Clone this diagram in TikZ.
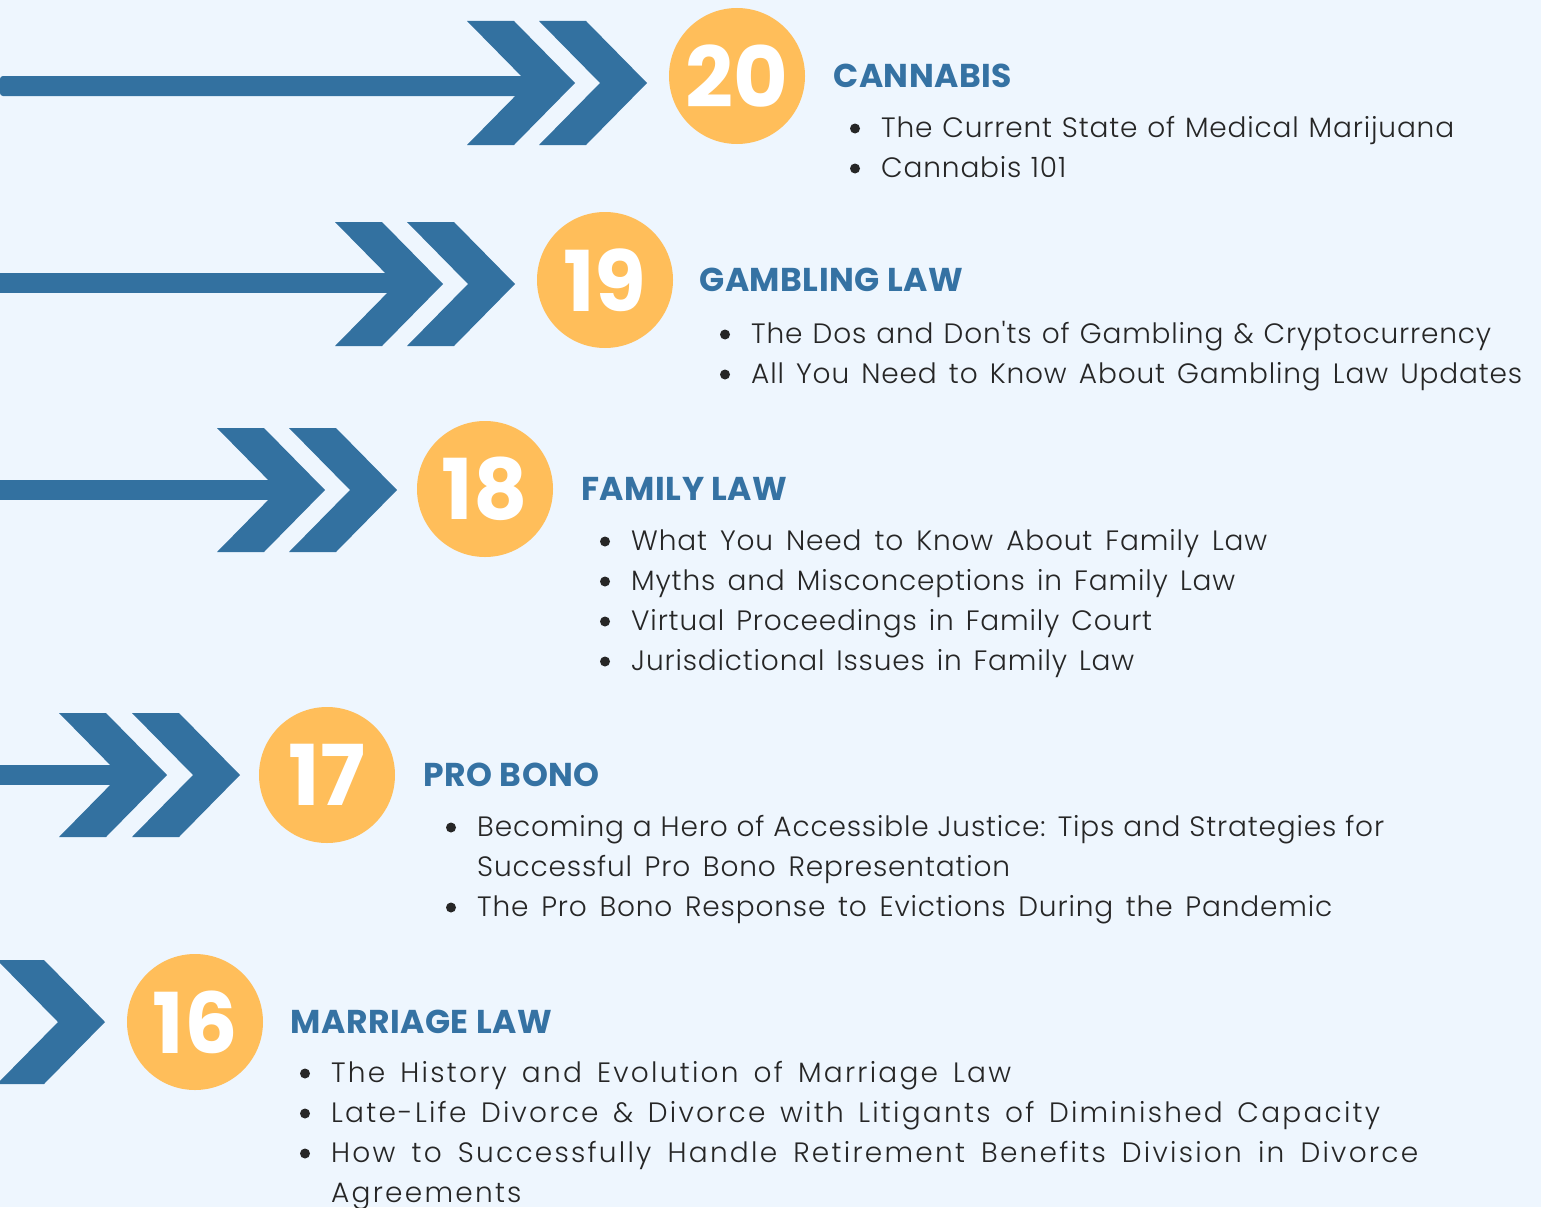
\documentclass[tikz,border=0pt]{standalone}
\usepackage{fontspec}
\setmainfont{Poppins}[UprightFont=* Light, BoldFont=* Bold]
\newfontfamily\bodyfont{Poppins}[UprightFont=* Light, LetterSpace=3]
\newfontfamily\widefont{Poppins}[UprightFont=* Light, LetterSpace=8]
\usetikzlibrary{positioning}

\definecolor{bgblue}{HTML}{EEF6FE}
\definecolor{arrowblue}{HTML}{3371A0}
\definecolor{headblue}{HTML}{3572A3}
\definecolor{discorange}{HTML}{FFBE5A}
\definecolor{bodygray}{HTML}{262626}

\tikzset{
    chev/.pic={\fill[arrowblue] (0,-62) -- (47,-62) -- (108,0) -- (47,62) -- (0,62) -- (61,0) -- cycle;},
    numdisc/.style={circle, fill=discorange, minimum size=136pt, inner sep=0pt,
        text=white, font=\bfseries\fontsize{84}{84}\selectfont},
    headtxt/.style={font=\bfseries\fontsize{33}{33}\selectfont\addfontfeature{LetterSpace=1.5}, text=headblue, inner sep=0pt},
    itemtxt/.style={font=\bodyfont\fontsize{28}{40}\selectfont, text=bodygray, inner sep=0pt, anchor=base west},
    dot/.style={circle, fill=bodygray, minimum size=10pt, inner sep=0pt},
}

% one bullet line: name, x, baseline y, width, text
\newcommand{\entry}[5]{%
    \node[itemtxt] (#1) at (#2,#3) {\makebox[#4pt][s]{#5}};
    \node[dot] (#1dot) at ([xshift=-26pt,yshift=8.5pt]#1.base west) {};}

\begin{document}
\begin{tikzpicture}[x=1pt, y=-1pt]
    \fill[bgblue] (0,0) rectangle (1541,1207);
    \useasboundingbox (0,0) rectangle (1541,1207);

    % 20
    \fill[arrowblue, rounded corners=3pt] (0,76) rectangle (528,96);
    \pic at (467,83) {chev};
    \pic at (539,83) {chev};
    \node[numdisc] (n20) at (737,76) {20};
    \node[headtxt, right=28pt of n20] (h20) {CANNABIS};
    \entry{i20a}{881}{137}{573}{The Current State of Medical Marijuana}
    \entry{i20b}{881}{177}{185}{Cannabis 101}

    % 19
    \fill[arrowblue] (0,273) rectangle (396,293);
    \pic at (335,284) {chev};
    \pic at (407,284) {chev};
    \node[numdisc] (n19) at (605,280) {19};
    \node[headtxt, right=26pt of n19] (h19) {GAMBLING LAW};
    \entry{i19a}{751}{343}{740}{The Dos and Don'ts of Gambling \& Cryptocurrency}
    \entry{i19b}{751}{383}{771}{All You Need to Know About Gambling Law Updates}

    % 18
    \fill[arrowblue] (0,480) rectangle (278,500);
    \pic at (217,490) {chev};
    \pic at (289,490) {chev};
    \node[numdisc] (n18) at (485,489) {18};
    \node[headtxt, right=28pt of n18] (h18) {FAMILY LAW};
    \entry{i18a}{631}{550}{636}{What You Need to Know About Family Law}
    \entry{i18b}{631}{590}{604}{Myths and Misconceptions in Family Law}
    \entry{i18c}{631}{630}{521}{Virtual Proceedings in Family Court}
    \entry{i18d}{631}{670}{503}{Jurisdictional Issues in Family Law}

    % 17
    \fill[arrowblue] (0,765) rectangle (120,785);
    \pic at (59,775) {chev};
    \pic at (132,775) {chev};
    \node[numdisc] (n17) at (327,775) {17};
    \node[headtxt, right=28pt of n17] (h17) {PRO BONO};
    \entry{i17a}{477}{836}{907}{Becoming a Hero of Accessible Justice: Tips and Strategies for}
    \node[itemtxt] (i17a2) at (477,876) {\makebox[533pt][s]{Successful Pro Bono Representation}};
    \entry{i17b}{477}{916}{855}{The Pro Bono Response to Evictions During the Pandemic}

    % 16
    \pic at (-3,1022) {chev};
    \node[numdisc] (n16) at (195,1022) {16};
    \node[headtxt, right=27pt of n16] (h16) {MARRIAGE LAW};
    \entry{i16a}{331}{1082}{680}{\widefont The History and Evolution of Marriage Law}
    \entry{i16b}{331}{1122}{1049}{\widefont Late-Life Divorce \& Divorce with Litigants of Diminished Capacity}
    \entry{i16c}{331}{1162}{1087}{\widefont How to Successfully Handle Retirement Benefits Division in Divorce}
    \node[itemtxt] (i16c2) at (331,1202) {\widefont Agreements};
\end{tikzpicture}
\end{document}
